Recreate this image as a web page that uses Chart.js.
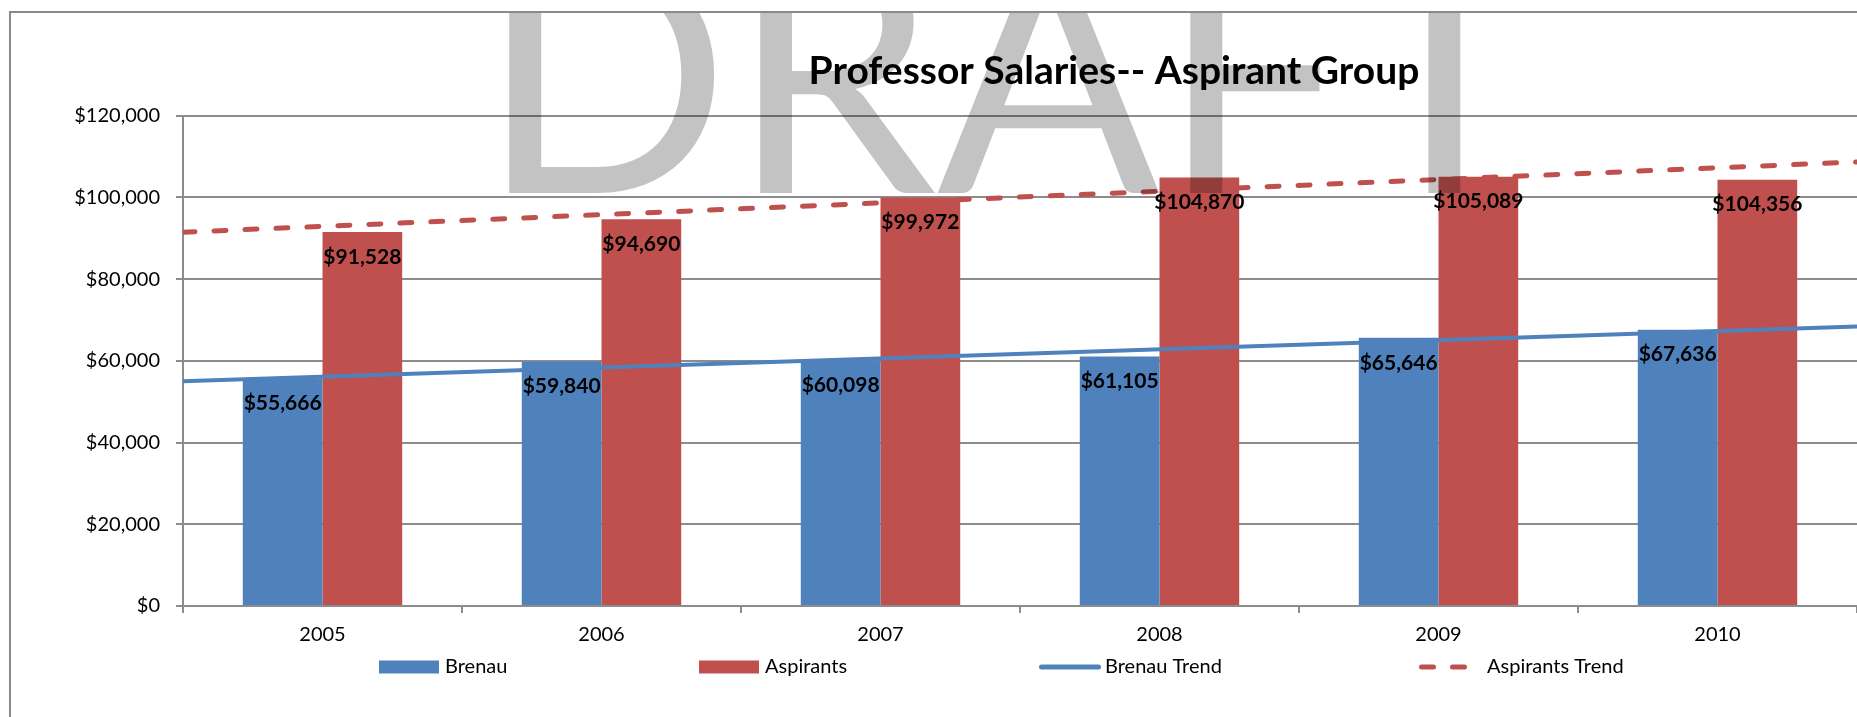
<!DOCTYPE html>
<html>
<head>
<meta charset="utf-8">
<title>Professor Salaries-- Aspirant Group</title>
<script src="https://cdn.jsdelivr.net/npm/chart.js@4.4.1/dist/chart.umd.min.js"></script>
<style>
  html, body { margin: 0; padding: 0; background: #fff; overflow: hidden; }
  #frame { position: absolute; left: 9px; top: 11px; width: 2206px; height: 760px; border: 2px solid #8a8a8a; }
  #frame canvas { display: block; }
</style>
</head>
<body>
<div id="frame"><canvas id="salaryChart" width="2206" height="760"></canvas></div>
<script>
var years = ['2005', '2006', '2007', '2008', '2009', '2010'];
var brenau = [55666, 59840, 60098, 61105, 65646, 67636];
var aspirants = [91528, 94690, 99972, 104870, 105089, 104356];
// trend lines: value at the left and right edge of the plot
var brenauTrend = [55000, 68400];
var aspirantsTrend = [91500, 108700];
var yMax = 120000;
var yStep = 20000;

var blue = '#4f81bd';
var red = '#c0504d';
var grey = '#8c8c8c';

function money(v) {
    return '$' + String(v).replace(/\B(?=(\d{3})+(?!\d))/g, ',');
}

// category index -0.5 / n-0.5 are the outer edges of the first and last category
function trendPoints(ends) {
    return [{ x: -0.5, y: ends[0] }, { x: years.length - 0.5, y: ends[1] }];
}

Chart.defaults.font.family = 'Lato';
Chart.defaults.color = '#000';

// big DRAFT watermark plus the bold value labels inside the bar tops
var overlay = {
    id: 'overlay',
    afterDatasetsDraw: function (chart) {
        var ctx = chart.ctx;
        ctx.save();
        ctx.font = '330px Lato';
        ctx.fillStyle = 'rgba(0, 0, 0, 0.235)';
        ctx.textBaseline = 'alphabetic';
        ctx.textAlign = 'left';
        ctx.fillText('DRAFT', 468, 180);

        ctx.font = 'bold 21px Lato';
        ctx.fillStyle = '#000';
        ctx.textAlign = 'center';
        ctx.textBaseline = 'middle';
        chart.data.datasets.forEach(function (ds, i) {
            if (ds.type !== 'bar') return;
            chart.getDatasetMeta(i).data.forEach(function (bar, j) {
                ctx.fillText(money(ds.data[j]), bar.x, bar.y + 25);
            });
        });
        ctx.restore();
    }
};

// one-row legend with wide spacing, like the Excel one
var legendSlots = [0, 320, 660, 1040];
var legendRow = {
    id: 'legendRow',
    afterDraw: function (chart) {
        var ctx = chart.ctx;
        var left = 368, y = 654;
        ctx.save();
        ctx.font = '20px Lato';
        ctx.textBaseline = 'middle';
        ctx.textAlign = 'left';
        chart.data.datasets.forEach(function (ds, i) {
            var x = left + legendSlots[i];
            if (ds.type === 'bar') {
                ctx.fillStyle = ds.backgroundColor;
                ctx.fillRect(x, y - 6.5, 60, 13);
            } else {
                ctx.strokeStyle = ds.borderColor;
                ctx.lineWidth = 5;
                ctx.lineCap = 'round';
                ctx.setLineDash(ds.borderDash || []);
                ctx.beginPath();
                ctx.moveTo(x + 2.5, y);
                ctx.lineTo(x + 59.5, y);
                ctx.stroke();
                ctx.setLineDash([]);
            }
            ctx.fillStyle = '#000';
            ctx.fillText(ds.label, x + (ds.borderDash ? 68 : 66), y);
        });
        ctx.restore();
    }
};

var ctx = document.getElementById('salaryChart').getContext('2d');
var myChart = new Chart(ctx, {
    type: 'bar',
    data: {
        labels: years,
        datasets: [{
            type: 'bar',
            label: 'Brenau',
            data: brenau,
            backgroundColor: blue,
            categoryPercentage: 0.5714,
            barPercentage: 1,
            order: 2
        }, {
            type: 'bar',
            label: 'Aspirants',
            data: aspirants,
            backgroundColor: red,
            categoryPercentage: 0.5714,
            barPercentage: 1,
            order: 2
        }, {
            type: 'line',
            label: 'Brenau Trend',
            data: trendPoints(brenauTrend),
            parsing: false,
            borderColor: blue,
            borderWidth: 4,
            pointRadius: 0,
            order: 1
        }, {
            type: 'line',
            label: 'Aspirants Trend',
            data: trendPoints(aspirantsTrend),
            parsing: false,
            borderColor: red,
            borderWidth: 5,
            borderDash: [12, 19],
            borderCapStyle: 'round',
            pointRadius: 0,
            order: 1
        }]
    },
    options: {
        responsive: false,
        animation: false,
        layout: { padding: { left: 0, right: 0, top: 0, bottom: 107 } },
        plugins: {
            legend: { display: false },
            tooltip: { enabled: false },
            title: {
                display: true,
                text: 'Professor Salaries-- Aspirant Group',
                color: '#000',
                font: { family: 'Lato', size: 39, weight: 'bold' },
                padding: { top: 35, bottom: 21 }
            }
        },
        scales: {
            x: {
                type: 'category',
                min: years[0],
                max: years[years.length - 1],
                offset: true,
                grid: { offset: true, drawOnChartArea: false, tickLength: 7, color: grey, lineWidth: 2 },
                border: { color: grey, width: 2 },
                ticks: { color: '#000', font: { size: 20 }, padding: 10 },
                afterFit: function (s) { s.height = 60; }
            },
            y: {
                min: 0,
                max: yMax,
                ticks: { stepSize: yStep, callback: money, color: '#000', font: { size: 20 }, padding: 16 },
                grid: { color: grey, lineWidth: 2, tickLength: 7 },
                border: { color: grey, width: 2 },
                afterFit: function (s) { s.width = 172; }
            },
            // empty strip on the right: the Excel chart runs on past the visible crop
            yr: {
                type: 'linear',
                position: 'right',
                grid: { display: false },
                border: { display: false },
                ticks: { display: false },
                afterFit: function (s) { s.width = 360; }
            }
        }
    },
    plugins: [overlay, legendRow]
});
</script>
</body>
</html>
